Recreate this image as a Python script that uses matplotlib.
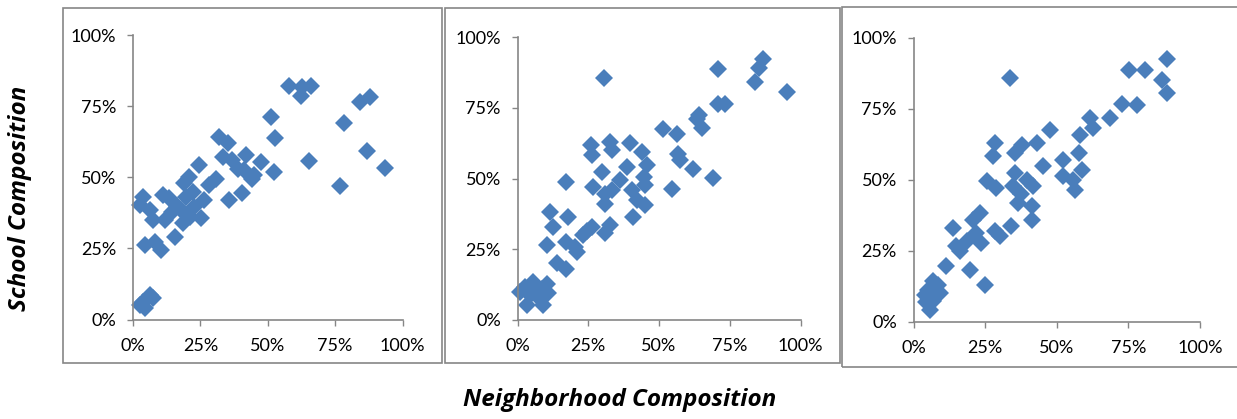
import matplotlib.pyplot as plt
from matplotlib.patches import Rectangle
from matplotlib.ticker import FuncFormatter

# neighborhood share (x) vs school share (y), in percent, one pair of lists per panel
p1_x = [2.5, 3.7, 6.2, 7.4, 11.1, 13.5, 11.7, 4.3, 8.0, 10.5, 15.4, 17.9, 18.5, 19.1, 20.9, 19.7,
        22.2, 22.8, 24.6, 26.5, 25.2, 28.3, 30.8, 32.0, 35.1, 33.3, 36.9, 41.9, 41.3, 44.3, 47.4,
        40.6, 35.7, 52.3, 51.1, 52.6, 16.5, 21.0, 14.5, 39.0, 45.0,
        6.2, 7.4, 3.7, 4.3, 2.5,
        57.9, 62.8, 65.9, 62.3, 65.3, 84.4, 88.0, 78.2, 86.8, 76.7, 93.6]
p1_y = [40.3, 43.2, 38.5, 35.0, 43.8, 42.6, 35.0, 26.2, 27.3, 24.4, 29.1, 38.5, 33.8, 47.9, 50.2, 43.2,
        45.0, 39.7, 54.3, 42.0, 35.6, 47.3, 49.6, 64.3, 62.0, 57.3, 56.1, 57.9, 52.6, 49.6, 55.5,
        44.4, 42.0, 52.0, 71.4, 63.7, 40.0, 36.0, 38.0, 53.0, 51.0,
        8.6, 7.4, 6.2, 3.9, 5.0,
        82.3, 81.7, 82.3, 78.6, 55.7, 76.4, 78.4, 69.1, 59.3, 47.0, 53.3]

p2_x = [0.8, 2.6, 5.5, 3.2, 9.1, 10.3, 10.8, 6.7, 8.5, 4.5,
        13.8, 17.3, 10.3, 17.3, 20.3, 21.0, 23.2, 26.2, 24.5, 30.9, 32.7, 11.4, 17.9, 12.6, 17.3,
        25.9, 26.2, 32.7, 33.3, 39.7, 43.9, 45.6, 44.5, 45.0, 38.6, 36.2, 29.7, 26.8, 30.9, 30.9,
        40.3, 42.1, 45.0, 40.9, 33.5,
        51.5, 56.3, 56.8, 57.4, 62.1, 54.5, 63.3, 64.0, 65.0, 68.9,
        30.4, 70.9, 86.8, 85.1, 83.9, 95.3, 70.9, 73.3]
p2_y = [10.0, 11.8, 13.5, 5.3, 5.3, 12.9, 9.4, 8.8, 11.0, 9.0,
        20.0, 18.2, 26.5, 27.6, 25.9, 24.0, 30.0, 32.9, 31.5, 30.6, 33.5, 38.2, 36.5, 32.9, 48.8,
        61.8, 58.2, 62.9, 60.0, 62.7, 59.4, 54.7, 50.6, 47.6, 54.1, 49.4, 52.4, 47.1, 44.7, 41.2,
        45.9, 42.4, 40.6, 36.5, 46.0,
        67.6, 65.9, 58.8, 56.5, 53.5, 46.5, 71.2, 72.5, 67.8, 50.1,
        85.5, 88.7, 92.3, 89.0, 84.3, 80.8, 76.3, 76.3]

p3_x = [3.9, 5.0, 6.8, 8.5, 6.8, 5.6, 9.1, 4.5,
        11.4, 19.6, 24.9, 13.8, 14.9, 18.5, 16.1, 20.8, 21.9, 23.1, 23.7, 28.4, 30.1, 34.2, 36.6,
        41.2, 41.2,
        25.5, 28.8, 35.4, 34.9, 39.5, 41.8, 37.5,
        28.4, 27.8, 35.4, 37.7, 43.0, 47.7, 45.3,
        52.3, 52.3, 55.8, 56.4, 57.6, 58.8, 58.2, 61.7, 62.8, 68.6, 72.7, 77.9, 75.3, 80.8, 88.4,
        86.6, 88.6, 33.7]
p3_y = [9.5, 11.3, 14.2, 13.0, 7.2, 4.2, 10.1, 7.0,
        19.5, 18.3, 13.0, 33.0, 26.5, 28.3, 24.8, 35.9, 31.2, 38.3, 27.7, 31.8, 30.0, 33.6, 41.8,
        40.6, 35.9,
        49.4, 47.1, 52.3, 47.7, 50.0, 47.7, 45.0,
        62.9, 58.2, 59.4, 62.3, 62.9, 67.6, 54.7,
        57.0, 51.2, 50.0, 46.5, 59.4, 53.5, 65.8, 71.7, 68.1, 71.6, 76.6, 76.3, 88.6, 88.6, 92.4,
        85.1, 80.6, 85.7]

ticks = [0, 25, 50, 75, 100]
panels = [(p1_x, p1_y), (p2_x, p2_y), (p3_x, p3_y)]

W, H = 1237, 419
# plot areas and chart frames in pixels: (left, top, right, bottom)
areas = [(133, 35.3, 402.5, 319.5), (517.5, 37.3, 800.7, 320), (913.5, 37.7, 1200, 321.7)]
frames = [(63, 8, 442, 363), (445, 8, 840, 363), (842, 7, 1245, 367)]

plt.rcParams['font.family'] = ['Lato', 'DejaVu Sans']
fig = plt.figure(figsize=(W / 100, H / 100), dpi=100)

grey = '#868686'
for (xs, ys), (l, t, r, b), fr in zip(panels, areas, frames):
    ax = fig.add_axes([l / W, 1 - b / H, (r - l) / W, (b - t) / H])
    ax.plot(xs, ys, 'D', color='#4a7ebb', ms=9.2, mew=0, clip_on=False)
    ax.set_xlim(0, 100)
    ax.set_ylim(0, 100)
    ax.set_xticks(ticks)
    ax.set_yticks(ticks)
    fmt = FuncFormatter(lambda v, p: f'{v:.0f}%')
    ax.xaxis.set_major_formatter(fmt)
    ax.yaxis.set_major_formatter(fmt)
    for s in ['top', 'right']:
        ax.spines[s].set_visible(False)
    for s in ['left', 'bottom']:
        ax.spines[s].set_color(grey)
        ax.spines[s].set_linewidth(1.2)
    ax.tick_params(direction='out', length=4, width=1, color=grey,
                   labelsize=13, labelcolor='black')
    ax.tick_params(axis='y', pad=8)
    ax.tick_params(axis='x', pad=9)
    fl, ft, frr, fb = fr
    fig.patches.append(Rectangle((fl / W, 1 - fb / H), (frr - fl) / W, (fb - ft) / H,
                                 transform=fig.transFigure, fill=False,
                                 edgecolor=grey, lw=1.2))

fig.text(20 / W, 1 - 198 / H, 'School Composition', rotation=90, ha='center', va='center',
         fontsize=17.5, fontweight='bold', fontstyle='italic', family='Open Sans')
fig.text(620 / W, 1 - 400 / H, 'Neighborhood Composition', ha='center', va='center',
         fontsize=17.5, fontweight='bold', fontstyle='italic', family='Open Sans')

fig.savefig('out.png', dpi=100)
